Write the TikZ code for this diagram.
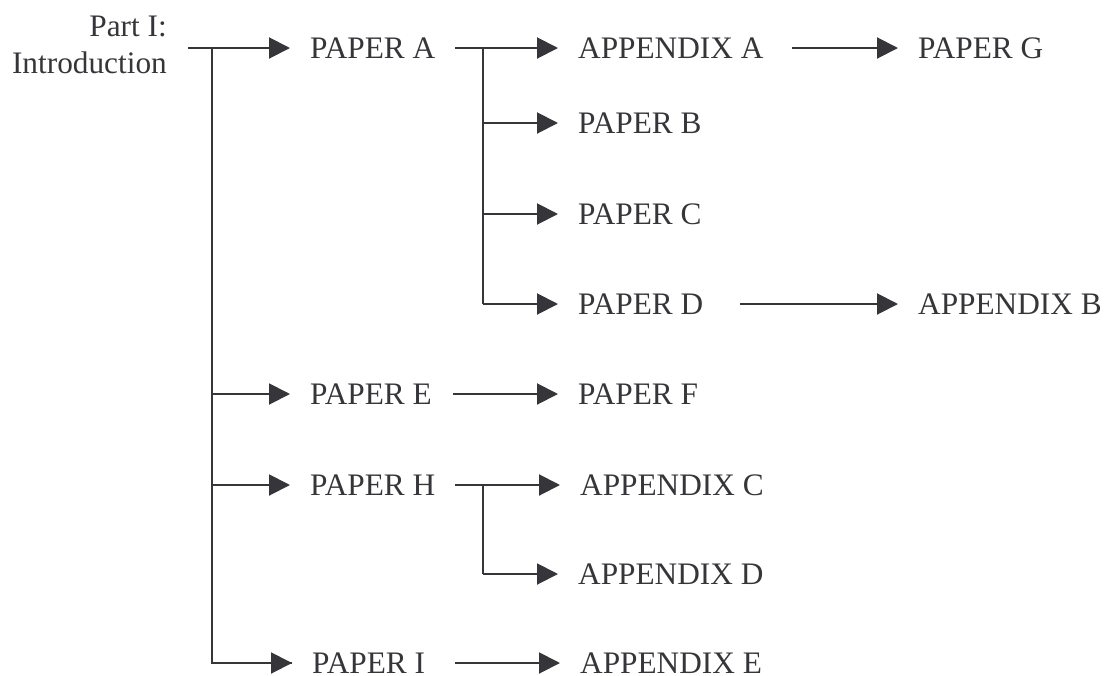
\documentclass[tikz,border=0pt]{standalone}
\usepackage{fontspec}
\setmainfont{Liberation Serif}
\usetikzlibrary{arrows.meta}
\definecolor{ink}{HTML}{36363A}
\tikzset{
  lbl/.style={anchor=west, inner sep=0pt, text height=20.8pt, text depth=0pt,
              text=ink, font=\fontsize{31.3}{37}\selectfont},
  link/.style={draw=ink, line width=2pt,
               -{Triangle[length=21pt,width=21pt]}, shorten >=20pt},
  rail/.style={draw=ink, line width=2pt}
}
\begin{document}
\begin{tikzpicture}[x=1pt,y=-1pt]
\useasboundingbox (0,0) rectangle (1106,675);

% titles
\node[anchor=east, inner sep=0pt, align=right, text=ink,
      font=\fontsize{31.3}{37}\selectfont] (intro) at (167,44.5) {Part I:\\Introduction};

% first column
\node[lbl] (pa) at (310,48)  {PAPER A};
\node[lbl] (pe) at (310,394) {PAPER E};
\node[lbl] (ph) at (310,485) {PAPER H};
\node[lbl] (pi) at (312,663) {PAPER I};

% second column
\node[lbl] (apa) at (578,48)  {APPENDIX A};
\node[lbl] (pb)  at (578,123) {PAPER B};
\node[lbl] (pc)  at (578,214) {PAPER C};
\node[lbl] (pd)  at (578,304) {PAPER D};
\node[lbl] (pf)  at (578,394) {PAPER F};
\node[lbl] (apc) at (580,485) {APPENDIX C};
\node[lbl] (apd) at (578,574) {APPENDIX D};
\node[lbl] (ape) at (580,663) {APPENDIX E};

% third column
\node[lbl] (pg)  at (918,48)  {PAPER G};
\node[lbl] (apb) at (918,304) {APPENDIX B};

% junction points
\coordinate (introOut) at (188,48);
\coordinate (trunk)    at (212,48);
\coordinate (paOut)    at (455,48);
\coordinate (paRail)   at (483,48);
\coordinate (apaOut)   at (792,48);
\coordinate (pdOut)    at (740,304);
\coordinate (peOut)    at (453,394);
\coordinate (phOut)    at (455,485);
\coordinate (phRail)   at (483,485);
\coordinate (piOut)    at (455,663);

% main trunk from the introduction
\draw[link] (introOut) -- (pa.west);
\draw[rail] (trunk) |- ([xshift=-20pt]pi.west);
\draw[link] (trunk |- pe.west) -- (pe.west);
\draw[link] (trunk |- ph.west) -- (ph.west);
\draw[link] (trunk |- pi.west) -- (pi.west);

% PAPER A branch
\draw[link] (paOut) -- (apa.west);
\draw[rail] (paRail) -- (paRail |- pd.west);
\draw[link] (paRail |- pb.west) -- (pb.west);
\draw[link] (paRail |- pc.west) -- (pc.west);
\draw[link] (paRail |- pd.west) -- (pd.west);
\draw[link] (apaOut) -- (pg.west);
\draw[link] (pdOut) -- (apb.west);

% PAPER E
\draw[link] (peOut) -- (pf.west);

% PAPER H branch
\draw[link] (phOut) -- (apc.west);
\draw[rail] (phRail) -- (phRail |- apd.west);
\draw[link] (phRail |- apd.west) -- (apd.west);

% PAPER I
\draw[link] (piOut) -- (ape.west);
\end{tikzpicture}
\end{document}
